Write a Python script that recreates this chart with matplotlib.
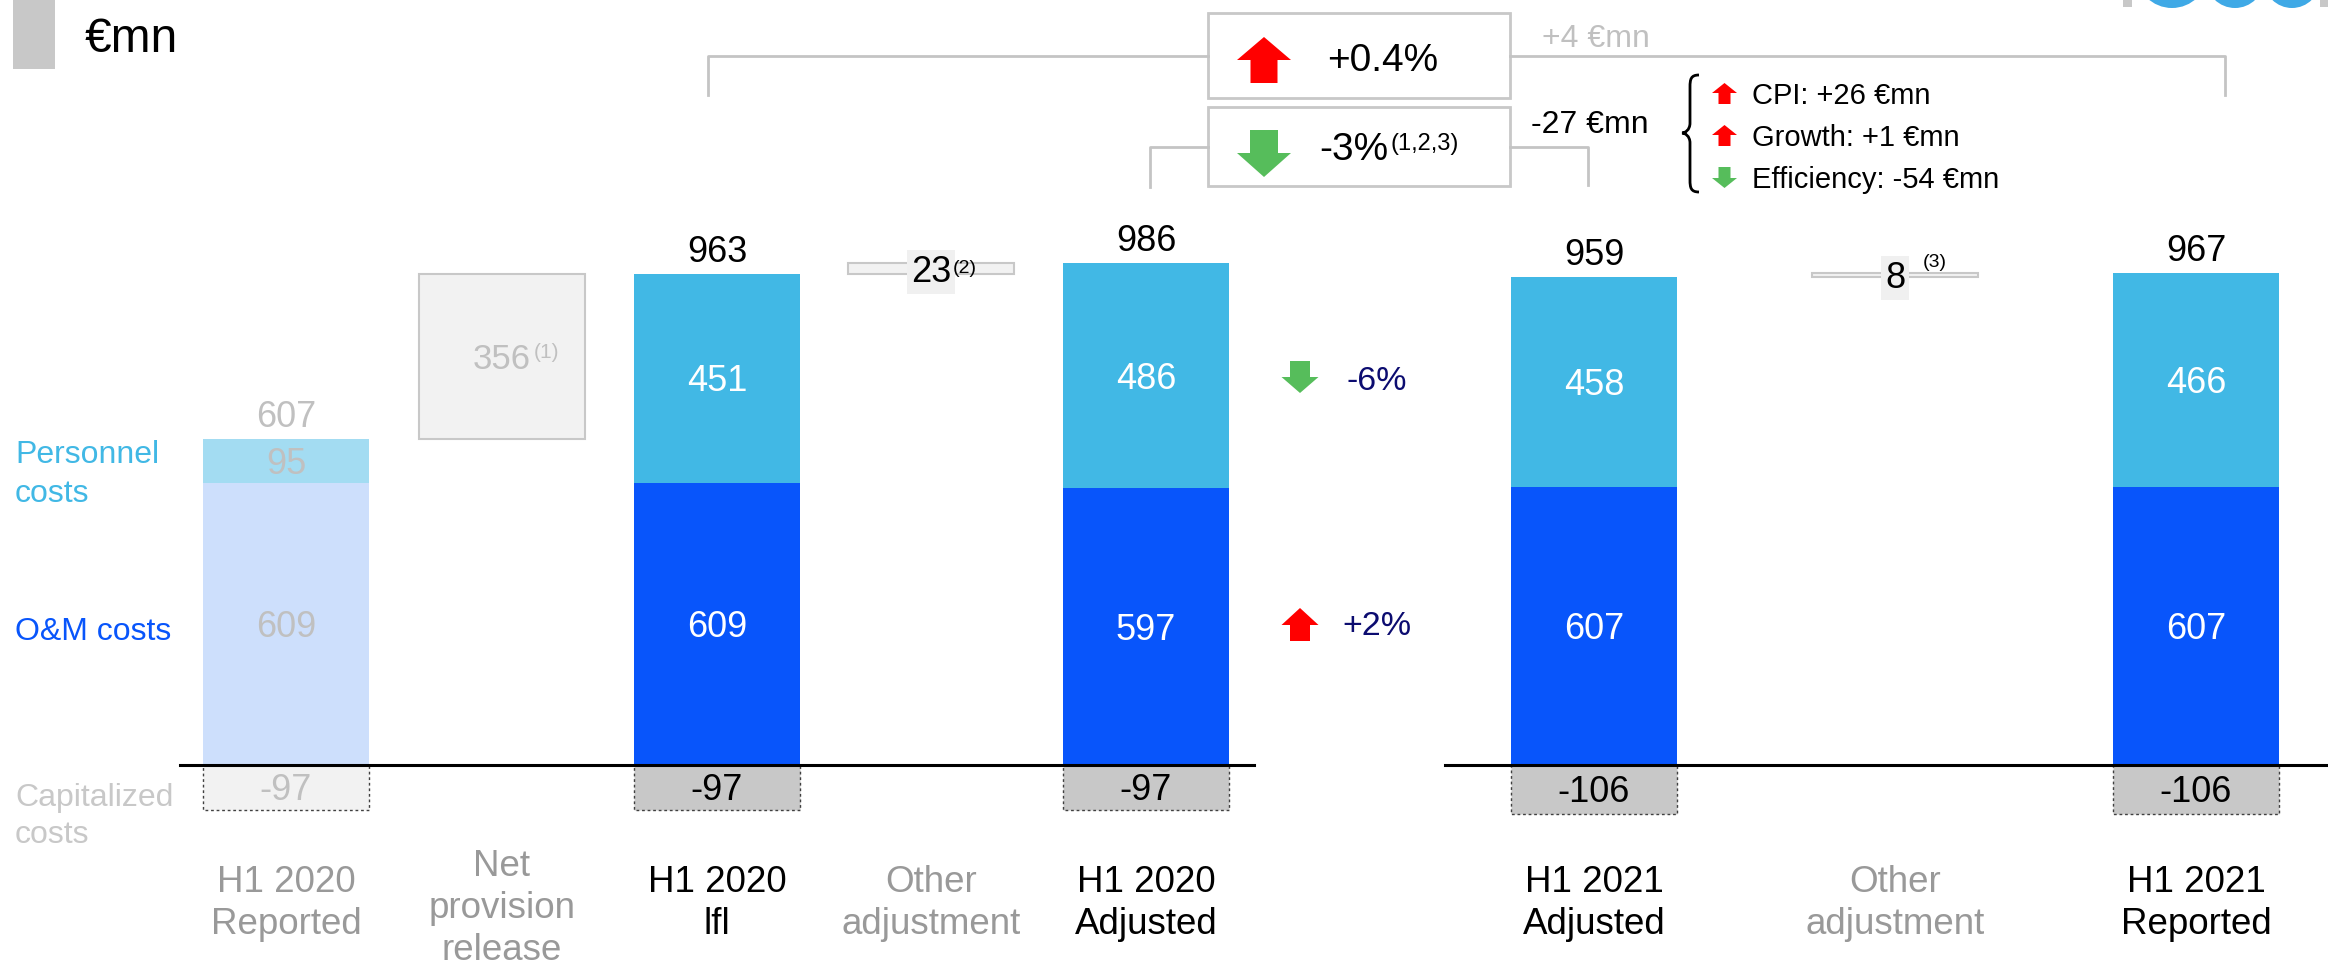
import matplotlib
matplotlib.use("Agg")
import matplotlib.pyplot as plt
from matplotlib.patches import Polygon, Rectangle, Ellipse, PathPatch
from matplotlib.path import Path

# -------- Data (EUR mn) --------
categories = ["H1 2020\nReported", "Net\nprovision\nrelease", "H1 2020\nlfl",
              "Other\nadjustment", "H1 2020\nAdjusted", "H1 2021\nAdjusted",
              "Other\nadjustment", "H1 2021\nReported"]
om_costs = [609, 609, 597, 607, 607]
personnel_costs = [95, 451, 486, 458, 466]
capitalized_costs = [-97, -97, -97, -106, -106]
adjustments = [356, 23, 8]
adj_notes = ["(1)", "(2)", "(3)"]
breakdown = ["CPI: +26 €mn", "Growth: +1 €mn", "Efficiency: -54 €mn"]
breakdown_up = [True, True, False]

# -------- Layout --------
plt.rcParams['font.family'] = ['Liberation Sans', 'DejaVu Sans']
W, H = 2328, 967
BASE = 765          # pixel row of the zero line
BAR_W = 166
x_pos = [286, 502, 717, 931, 1146, 1594, 1895, 2196]
stack_idx = [0, 2, 4, 5, 7]
adj_idx = [1, 3, 6]

C_PERS = '#41b8e5'
C_OM = '#0855fb'
C_CAP = '#c8c8c8'
C_GREY_TXT = '#999999'
C_RED = '#ff0000'
C_GREEN = '#56bd5b'
C_NAVY = '#0c0c70'

fig = plt.figure(figsize=(W / 100, H / 100), dpi=100)


def value_axes(scale):
    ax = fig.add_axes([0, 0, 1, 1])
    ax.set_xlim(0, W)
    ax.set_ylim(-(H - BASE) / scale, BASE / scale)
    ax.axis('off')
    ax.patch.set_alpha(0)
    return ax


ax_l = value_axes(0.4632)
ax_r = value_axes(0.4585)


def centre_label(ax, x, y, s, color, size=26):
    ax.annotate(s, xy=(x, y), xytext=(0, -0.358 * size), textcoords='offset points',
                ha='center', va='baseline', fontsize=size, color=color, zorder=5)


# -------- Stacked bars --------
for k, i in enumerate(stack_idx):
    ax = ax_l if i < 5 else ax_r
    x = x_pos[i]
    om, pe, cap = om_costs[k], personnel_costs[k], capitalized_costs[k]
    faded = (i == 0)
    c_om = '#cddffc' if faded else C_OM
    c_pe = '#a3dcf2' if faded else C_PERS
    c_cap = '#f2f2f2' if faded else C_CAP
    t_in = '#c0c0c0' if faded else 'white'
    t_out = '#c0c0c0' if faded else 'black'

    ax.bar(x, om, width=BAR_W, color=c_om, zorder=2)
    ax.bar(x, pe, bottom=om, width=BAR_W, color=c_pe, zorder=2)
    ax.bar(x, cap, width=BAR_W, color=c_cap, edgecolor='#404040',
           linestyle=(0, (2, 2)), linewidth=1, zorder=2)

    centre_label(ax, x, om / 2, f"{om}", t_in)
    centre_label(ax, x, om + pe / 2, f"{pe}", t_in)
    centre_label(ax, x, cap / 2, f"{cap}", t_out)
    ax.annotate(f"{om + pe + cap}", xy=(x, om + pe), xytext=(0, 8.6),
                textcoords='offset points', ha='center', va='baseline',
                fontsize=26, color=t_out, zorder=5)

# -------- Floating adjustment boxes --------
adj_bottoms = [om_costs[0] + personnel_costs[0],
               om_costs[1] + personnel_costs[1],
               om_costs[3] + personnel_costs[3]]
for j, i in enumerate(adj_idx):
    ax = ax_l if i < 5 else ax_r
    x = x_pos[i]
    ax.bar(x, adjustments[j], bottom=adj_bottoms[j], width=BAR_W,
           color='#f2f2f2', edgecolor='#c8c8c8', linewidth=1.5, zorder=2)
    mid = adj_bottoms[j] + adjustments[j] / 2
    if j == 0:
        ax.annotate(f"{adjustments[j]}", xy=(x, mid), xytext=(0, -9),
                    textcoords='offset points', ha='center', va='baseline',
                    fontsize=25, color='#c0c0c0', zorder=5)
        ax.annotate(adj_notes[j], xy=(x, mid), xytext=(23, -1),
                    textcoords='offset points', ha='left', va='baseline',
                    fontsize=15, color='#c0c0c0', zorder=5)
    else:
        ax.annotate(f"{adjustments[j]}", xy=(x, mid), xytext=(0, -9.3),
                    textcoords='offset points', ha='center', va='baseline',
                    fontsize=26, color='black', zorder=5,
                    bbox=dict(boxstyle='square,pad=0.12', fc='#f0f0f0', ec='none'))
        dx = 16 if j == 1 else 20
        dy = -3 if j == 1 else 6
        ax.annotate(adj_notes[j], xy=(x, mid), xytext=(dx, dy),
                    textcoords='offset points', ha='left', va='baseline',
                    fontsize=14, color='black', zorder=6)

# -------- Overlay in pixel coordinates --------
ann = fig.add_axes([0, 0, 1, 1])
ann.set_xlim(0, W)
ann.set_ylim(H, 0)
ann.axis('off')
ann.patch.set_alpha(0)


def txt(x, y, s, size, color='black', ha='left'):
    ann.text(x, y, s, fontsize=size, color=color, ha=ha, va='baseline')


def block_arrow(cx, tip, head_base, end, hh, hs, color):
    pts = [(cx, tip), (cx + hh, head_base), (cx + hs, head_base), (cx + hs, end),
           (cx - hs, end), (cx - hs, head_base), (cx - hh, head_base)]
    ann.add_patch(Polygon(pts, closed=True, color=color, lw=0))


# zero lines
ann.plot([180, 1254], [BASE, BASE], color='black', lw=2.2)
ann.plot([1445, W], [BASE, BASE], color='black', lw=2.2)

# header
ann.add_patch(Rectangle((13, 0), 42, 69, color='#c8c8c8', lw=0))
txt(85, 52, "€mn", 34.5)

# logo fragments at top right
for cx, cy, r in [(2172, -28, 36), (2235, -21, 29), (2292, -20, 28)]:
    ann.add_patch(Ellipse((cx, cy), 2 * r, 2 * r, color='#3fa9e6', lw=0))
ann.add_patch(Rectangle((2123, 0), 9, 7, color='#c8c8c8', lw=0))
ann.add_patch(Rectangle((2320, 0), 8, 7, color='#c8c8c8', lw=0))

# row labels on the left
txt(15, 463, "Personnel", 23, C_PERS)
txt(15, 502, "costs", 23, C_PERS)
txt(15, 640, "O&M costs", 23, C_OM)
txt(15, 806, "Capitalized", 23, C_CAP)
txt(15, 843, "costs", 23, C_CAP)

# category labels
for i, lab in enumerate(categories):
    lines = lab.split("\n")
    color = C_GREY_TXT if i in (0, 1, 3, 6) else 'black'
    y0 = 876 if len(lines) == 3 else 892
    for n, line in enumerate(lines):
        txt(x_pos[i], y0 + 42 * n, line, 26.5, color, ha='center')

# brackets and variation boxes
lc = '#c4c4c4'
ann.plot([708, 708, 1208], [95, 56, 56], color=lc, lw=2)
ann.plot([1510, 2225, 2225], [56, 56, 95], color=lc, lw=2)
ann.plot([1150, 1150, 1208], [187, 147, 147], color=lc, lw=2)
ann.plot([1510, 1588, 1588], [147, 147, 185], color=lc, lw=2)
ann.add_patch(Rectangle((1208, 13), 302, 85, fc='white', ec='#c8c8c8', lw=2))
ann.add_patch(Rectangle((1208, 107), 302, 79, fc='white', ec='#c8c8c8', lw=2))

block_arrow(1264, 37, 60, 83, 27, 13.5, C_RED)
txt(1327, 71, "+0.4%", 28)
block_arrow(1264, 177, 153, 130, 27, 14, C_GREEN)
txt(1319, 160, "-3%", 28)
txt(1390, 150, "(1,2,3)", 17)

txt(1542, 47, "+4 €mn", 23, '#c0c0c0')
txt(1531, 133, "-27 €mn", 23)

# curly brace
bx0, bx1, bx2 = 1682, 1690, 1699
top, mid, bot = 75, 133, 192
verts = [(bx2, top), (bx1 + 1, top), (bx1, top + 4), (bx1, top + 12),
         (bx1, mid - 10),
         (bx1, mid - 3), (bx0 + 3, mid), (bx0, mid),
         (bx0 + 3, mid), (bx1, mid + 3), (bx1, mid + 10),
         (bx1, bot - 12),
         (bx1, bot - 4), (bx1 + 1, bot), (bx2, bot)]
codes = [Path.MOVETO, Path.CURVE4, Path.CURVE4, Path.CURVE4,
         Path.LINETO,
         Path.CURVE4, Path.CURVE4, Path.CURVE4,
         Path.CURVE4, Path.CURVE4, Path.CURVE4,
         Path.LINETO,
         Path.CURVE4, Path.CURVE4, Path.CURVE4]
ann.add_patch(PathPatch(Path(verts, codes), fc='none', ec='black', lw=2))

# breakdown of the -27 €mn
for n, (s, up) in enumerate(zip(breakdown, breakdown_up)):
    base = 104 + 42 * n
    if up:
        block_arrow(1724.5, base - 21, base - 11, base, 12.5, 6, C_RED)
    else:
        block_arrow(1724.5, base, base - 10, base - 21, 12.5, 6, C_GREEN)
    txt(1752, base, s, 21)

# personnel / O&M variation
block_arrow(1300, 393, 377, 361, 18.5, 10, C_GREEN)
txt(1347, 390, "-6%", 24.5, C_NAVY)
block_arrow(1300, 608, 625, 641, 18.5, 10, C_RED)
txt(1342, 635, "+2%", 24.5, C_NAVY)

fig.savefig("out.png", dpi=100)
